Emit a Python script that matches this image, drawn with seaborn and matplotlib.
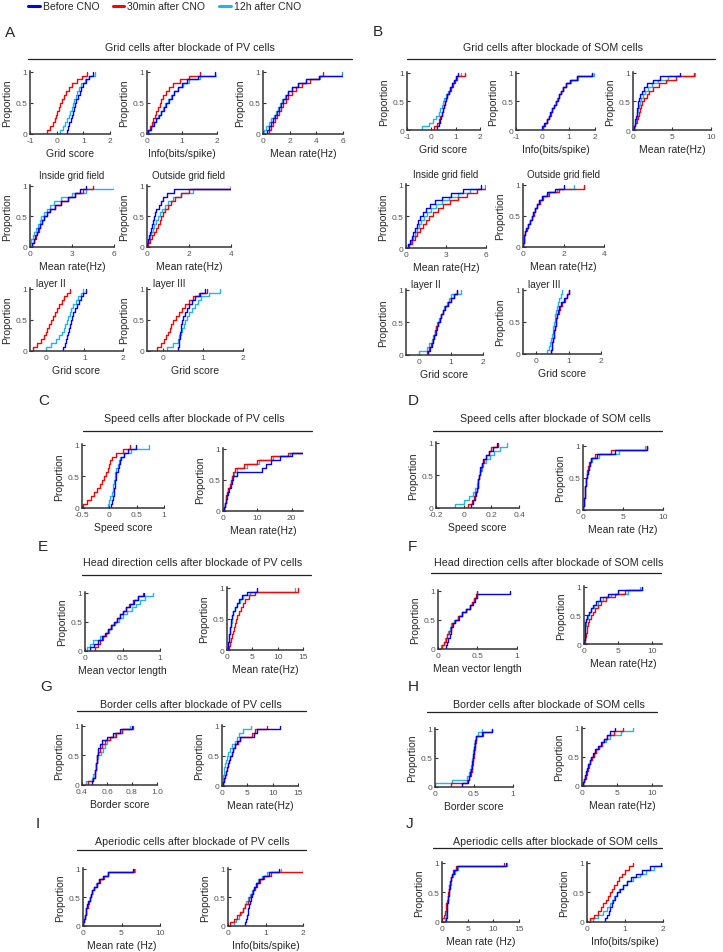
import matplotlib
matplotlib.use("Agg")
import matplotlib.pyplot as plt
import numpy as np
import pandas as pd
import seaborn as sns
from matplotlib.lines import Line2D

# ---- data: sample values (before, 30min, 12h) ----
labels = ["Before CNO", "30min after CNO", "12h after CNO"]
colors = ["#0000ff", "#ff0000", "#1fb5f0"]

# A: grid cells, PV blockade
a_grid_score = (
    [0.37, 0.42, 0.47, 0.52, 0.56, 0.6, 0.64, 0.69, 0.74, 0.8, 0.86, 0.93, 1.0, 1.1, 1.22, 1.36],
    [-0.35, -0.25, -0.15, -0.08, -0.02, 0.03, 0.08, 0.13, 0.19, 0.26, 0.35, 0.45, 0.58, 0.78, 0.95, 1.13],
    [0.12, 0.25, 0.33, 0.4, 0.46, 0.51, 0.56, 0.61, 0.66, 0.72, 0.78, 0.85, 0.93, 1.05, 1.2, 1.43],
)
a_info = (
    [0.03, 0.12, 0.2, 0.27, 0.34, 0.41, 0.48, 0.55, 0.62, 0.7, 0.78, 0.88, 1.0, 1.15, 1.45, 1.95],
    [0.02, 0.08, 0.13, 0.18, 0.22, 0.27, 0.31, 0.36, 0.41, 0.47, 0.54, 0.62, 0.75, 0.95, 1.2, 1.5],
    [0.02, 0.1, 0.18, 0.25, 0.32, 0.39, 0.45, 0.52, 0.6, 0.68, 0.77, 0.88, 1.02, 1.2, 1.5, 2.0],
)
a_rate = (
    [0.28, 0.45, 0.6, 0.75, 0.9, 1.05, 1.2, 1.35, 1.5, 1.7, 1.9, 2.2, 2.6, 3.2, 4.2, 6.0],
    [0.42, 0.6, 0.75, 0.9, 1.05, 1.2, 1.35, 1.5, 1.7, 1.9, 2.15, 2.45, 2.9, 3.5, 4.2, 4.5],
    [0.05, 0.25, 0.45, 0.62, 0.8, 0.95, 1.1, 1.3, 1.45, 1.65, 1.85, 2.15, 2.6, 3.2, 4.3, 5.9],
)
a_inside = (
    [0.12, 0.25, 0.38, 0.5, 0.6, 0.72, 0.85, 1.0, 1.2, 1.45, 1.8, 2.2, 2.7, 3.2, 3.6, 4.0],
    [0.12, 0.28, 0.4, 0.52, 0.62, 0.73, 0.86, 1.0, 1.2, 1.45, 1.8, 2.2, 2.7, 3.2, 3.8, 4.5],
    [0.0, 0.1, 0.2, 0.3, 0.42, 0.55, 0.68, 0.82, 1.0, 1.2, 1.45, 1.7, 2.2, 3.0, 4.0, 6.0],
)
a_outside = (
    [0.02, 0.06, 0.1, 0.14, 0.18, 0.22, 0.27, 0.32, 0.38, 0.45, 0.55, 0.65, 0.78, 0.95, 1.3, 4.0],
    [0.05, 0.15, 0.25, 0.35, 0.43, 0.52, 0.6, 0.68, 0.78, 0.88, 1.0, 1.15, 1.35, 1.6, 2.0, 4.0],
    [0.02, 0.08, 0.14, 0.2, 0.27, 0.34, 0.41, 0.5, 0.6, 0.72, 0.85, 1.0, 1.25, 1.6, 2.2, 4.0],
)
a_layer2 = (
    [0.45, 0.5, 0.53, 0.56, 0.58, 0.6, 0.62, 0.65, 0.68, 0.72, 0.76, 0.8, 0.86, 0.92, 0.98, 1.05],
    [-0.33, -0.22, -0.12, -0.05, 0.0, 0.05, 0.1, 0.15, 0.2, 0.25, 0.3, 0.36, 0.42, 0.48, 0.55, 0.62],
    [0.0, 0.15, 0.28, 0.36, 0.42, 0.47, 0.51, 0.55, 0.59, 0.63, 0.67, 0.72, 0.78, 0.85, 0.92, 0.98],
)
a_layer3 = (
    [0.38, 0.39, 0.4, 0.42, 0.43, 0.44, 0.45, 0.47, 0.5, 0.55, 0.6, 0.65, 0.72, 0.8, 0.92, 1.05],
    [-0.16, -0.05, 0.02, 0.08, 0.12, 0.17, 0.21, 0.26, 0.32, 0.4, 0.48, 0.56, 0.65, 0.75, 0.9, 1.1],
    [0.1, 0.25, 0.37, 0.4, 0.44, 0.48, 0.52, 0.56, 0.6, 0.66, 0.72, 0.8, 0.88, 0.95, 1.15, 1.43],
)

# B: grid cells, SOM blockade
b_grid_score = (
    [0.25, 0.3, 0.34, 0.38, 0.42, 0.46, 0.5, 0.55, 0.6, 0.66, 0.72, 0.78, 0.85, 0.92, 1.0, 1.1],
    [0.1, 0.25, 0.32, 0.37, 0.42, 0.46, 0.5, 0.55, 0.6, 0.66, 0.72, 0.8, 0.88, 0.96, 1.05, 1.4],
    [-0.4, -0.1, 0.05, 0.2, 0.3, 0.36, 0.42, 0.48, 0.54, 0.6, 0.68, 0.76, 0.84, 0.92, 1.0, 1.2],
)
b_info = (
    [0.0, 0.08, 0.16, 0.24, 0.31, 0.38, 0.45, 0.52, 0.58, 0.65, 0.72, 0.8, 0.9, 1.05, 1.3, 1.9],
    [0.02, 0.1, 0.18, 0.25, 0.32, 0.38, 0.45, 0.51, 0.58, 0.64, 0.72, 0.8, 0.9, 1.05, 1.3, 1.9],
    [0.01, 0.09, 0.17, 0.24, 0.31, 0.38, 0.44, 0.51, 0.57, 0.64, 0.71, 0.79, 0.9, 1.08, 1.35, 1.95],
)
b_rate = (
    [0.1, 0.2, 0.3, 0.38, 0.45, 0.52, 0.6, 0.7, 0.82, 0.95, 1.15, 1.4, 1.8, 2.5, 3.5, 6.0],
    [0.15, 0.3, 0.45, 0.6, 0.72, 0.85, 1.0, 1.2, 1.45, 1.75, 2.1, 2.6, 3.3, 4.2, 5.5, 7.8],
    [0.1, 0.25, 0.35, 0.45, 0.55, 0.65, 0.77, 0.9, 1.05, 1.25, 1.5, 1.9, 2.4, 3.2, 4.5, 8.0],
)
b_inside = (
    [0.15, 0.3, 0.42, 0.55, 0.68, 0.8, 0.92, 1.05, 1.25, 1.5, 1.8, 2.2, 2.7, 3.4, 4.3, 5.6],
    [0.2, 0.45, 0.65, 0.85, 1.05, 1.25, 1.5, 1.75, 2.05, 2.4, 2.8, 3.3, 3.9, 4.6, 5.3, 6.0],
    [0.15, 0.35, 0.5, 0.65, 0.8, 0.95, 1.15, 1.35, 1.6, 1.9, 2.25, 2.7, 3.2, 3.9, 4.8, 5.9],
)
b_outside = (
    [0.02, 0.03, 0.05, 0.08, 0.15, 0.25, 0.33, 0.42, 0.5, 0.58, 0.68, 0.8, 0.95, 1.2, 1.6, 2.0],
    [0.02, 0.03, 0.06, 0.1, 0.18, 0.27, 0.35, 0.44, 0.52, 0.6, 0.7, 0.82, 1.0, 1.3, 1.8, 3.0],
    [0.02, 0.03, 0.05, 0.08, 0.15, 0.25, 0.33, 0.42, 0.5, 0.58, 0.68, 0.8, 0.95, 1.25, 1.7, 2.5],
)
b_layer2 = (
    [0.3, 0.35, 0.4, 0.44, 0.48, 0.52, 0.56, 0.6, 0.65, 0.7, 0.76, 0.82, 0.9, 1.0, 1.1, 1.2],
    [0.25, 0.32, 0.38, 0.43, 0.47, 0.51, 0.55, 0.6, 0.65, 0.7, 0.76, 0.83, 0.9, 1.0, 1.1, 1.2],
    [0.0, 0.25, 0.33, 0.4, 0.45, 0.5, 0.54, 0.58, 0.63, 0.68, 0.74, 0.8, 0.88, 0.95, 1.0, 1.3],
)
b_layer3 = (
    [0.45, 0.48, 0.5, 0.52, 0.54, 0.56, 0.58, 0.6, 0.62, 0.65, 0.68, 0.72, 0.78, 0.85, 0.95, 1.0],
    [0.45, 0.48, 0.5, 0.52, 0.54, 0.56, 0.58, 0.6, 0.62, 0.65, 0.7, 0.75, 0.8, 0.9, 0.95, 1.02],
    [0.35, 0.4, 0.43, 0.46, 0.49, 0.51, 0.53, 0.55, 0.57, 0.59, 0.62, 0.65, 0.68, 0.72, 0.76, 0.8],
)

# C/D: speed cells
c_speed = (
    [0.03, 0.05, 0.06, 0.08, 0.09, 0.1, 0.11, 0.12, 0.13, 0.15, 0.17, 0.19, 0.22, 0.26, 0.35, 0.49],
    [-0.48, -0.4, -0.33, -0.28, -0.22, -0.17, -0.13, -0.09, -0.06, -0.03, -0.01, 0.01, 0.05, 0.12, 0.25, 0.37],
    [-0.03, 0.0, 0.02, 0.04, 0.06, 0.07, 0.08, 0.1, 0.11, 0.13, 0.15, 0.17, 0.2, 0.26, 0.4, 0.73],
)
c_rate = (
    [0.3, 0.6, 0.9, 1.2, 1.5, 1.8, 2.2, 2.6, 3.0, 4.0, 11.5, 12.5, 14.0, 16.5, 20.0, 30.0],
    [0.2, 0.5, 0.8, 1.0, 1.3, 1.6, 1.9, 2.2, 2.6, 3.0, 3.6, 6.0, 10.0, 14.0, 19.0, 30.0],
    [0.2, 0.5, 0.8, 1.0, 1.3, 1.6, 1.9, 2.3, 2.7, 3.2, 4.0, 7.0, 10.5, 14.5, 19.5, 30.0],
)
d_speed = (
    [0.055, 0.07, 0.08, 0.09, 0.095, 0.1, 0.105, 0.11, 0.115, 0.12, 0.13, 0.14, 0.16, 0.18, 0.21, 0.24],
    [0.03, 0.06, 0.075, 0.085, 0.095, 0.1, 0.105, 0.11, 0.115, 0.125, 0.135, 0.145, 0.16, 0.18, 0.2, 0.25],
    [-0.065, 0.0, 0.04, 0.07, 0.085, 0.095, 0.1, 0.11, 0.12, 0.13, 0.14, 0.16, 0.19, 0.22, 0.26, 0.31],
)
d_rate = (
    [0.05, 0.1, 0.15, 0.2, 0.25, 0.3, 0.35, 0.4, 0.5, 0.6, 0.7, 0.85, 1.0, 1.8, 4.0, 8.0],
    [0.05, 0.1, 0.15, 0.2, 0.25, 0.3, 0.35, 0.4, 0.45, 0.55, 0.65, 0.8, 0.95, 1.5, 3.5, 8.0],
    [0.05, 0.1, 0.15, 0.2, 0.25, 0.3, 0.35, 0.4, 0.5, 0.6, 0.75, 0.9, 1.1, 2.0, 4.5, 7.8],
)

# E/F: head direction cells
e_mvl = (
    [0.07, 0.12, 0.17, 0.22, 0.27, 0.31, 0.35, 0.39, 0.43, 0.47, 0.51, 0.55, 0.6, 0.65, 0.7, 0.78],
    [0.13, 0.17, 0.2, 0.24, 0.28, 0.31, 0.35, 0.39, 0.42, 0.46, 0.5, 0.54, 0.59, 0.64, 0.7, 0.77],
    [0.02, 0.06, 0.1, 0.2, 0.28, 0.32, 0.36, 0.4, 0.45, 0.5, 0.56, 0.62, 0.68, 0.73, 0.8, 0.9],
)
e_rate = (
    [0.1, 0.2, 0.3, 0.4, 0.5, 0.6, 0.7, 0.85, 1.0, 1.2, 1.5, 1.9, 2.4, 3.0, 4.0, 6.0],
    [0.3, 0.5, 0.7, 0.9, 1.1, 1.3, 1.5, 1.8, 2.0, 2.3, 2.7, 3.1, 3.6, 4.3, 5.5, 14.0],
    [0.1, 0.2, 0.3, 0.4, 0.5, 0.6, 0.75, 0.9, 1.05, 1.25, 1.5, 1.9, 2.5, 3.2, 4.5, 13.5],
)
f_mvl = (
    [0.1, 0.12, 0.13, 0.15, 0.16, 0.17, 0.19, 0.22, 0.26, 0.3, 0.35, 0.4, 0.44, 0.47, 0.5, 0.91],
    [0.05, 0.08, 0.1, 0.12, 0.14, 0.16, 0.18, 0.21, 0.25, 0.3, 0.35, 0.4, 0.43, 0.46, 0.48, 0.49],
    [0.04, 0.07, 0.09, 0.11, 0.13, 0.15, 0.17, 0.2, 0.25, 0.3, 0.35, 0.4, 0.43, 0.46, 0.49, 0.5],
)
f_rate = (
    [0.05, 0.08, 0.1, 0.13, 0.16, 0.2, 0.3, 0.5, 0.8, 1.1, 1.4, 1.8, 2.4, 3.5, 5.0, 8.5],
    [0.1, 0.2, 0.3, 0.4, 0.5, 0.6, 0.8, 1.0, 1.3, 1.6, 2.0, 2.5, 3.3, 4.5, 6.0, 8.5],
    [0.05, 0.08, 0.1, 0.14, 0.18, 0.25, 0.35, 0.55, 0.8, 1.1, 1.5, 2.0, 2.8, 4.0, 6.5, 8.3],
)

# G/H: border cells
g_border = (
    [0.48, 0.49, 0.5, 0.5, 0.51, 0.51, 0.52, 0.52, 0.53, 0.53, 0.54, 0.56, 0.6, 0.65, 0.7, 0.8],
    [0.45, 0.49, 0.5, 0.5, 0.51, 0.51, 0.52, 0.52, 0.53, 0.54, 0.56, 0.58, 0.62, 0.67, 0.72, 0.81],
    [0.43, 0.48, 0.49, 0.5, 0.51, 0.51, 0.52, 0.53, 0.55, 0.57, 0.58, 0.6, 0.62, 0.66, 0.72, 0.78],
)
g_rate = (
    [0.1, 0.3, 0.5, 0.7, 0.9, 1.1, 1.3, 1.6, 1.9, 2.2, 2.6, 3.0, 3.5, 6.3, 7.0, 11.4],
    [0.1, 0.3, 0.5, 0.7, 0.9, 1.1, 1.3, 1.6, 1.9, 2.2, 2.6, 3.1, 3.6, 6.0, 6.5, 8.8],
    [0.05, 0.1, 0.2, 0.3, 0.45, 0.6, 0.8, 0.9, 1.2, 1.6, 2.0, 2.6, 3.0, 3.4, 4.2, 5.7],
)
h_border = (
    [0.34, 0.42, 0.43, 0.45, 0.46, 0.47, 0.48, 0.49, 0.49, 0.5, 0.5, 0.51, 0.51, 0.52, 0.6, 0.73],
    [0.21, 0.41, 0.44, 0.46, 0.47, 0.48, 0.49, 0.49, 0.5, 0.5, 0.51, 0.51, 0.52, 0.53, 0.62, 0.73],
    [0.0, 0.22, 0.41, 0.43, 0.45, 0.46, 0.47, 0.48, 0.49, 0.49, 0.5, 0.5, 0.51, 0.52, 0.55, 0.6],
)
h_rate = (
    [0.1, 0.25, 0.4, 0.55, 0.7, 0.9, 1.1, 1.3, 1.6, 1.9, 2.3, 2.7, 3.1, 3.5, 4.0, 4.7],
    [0.15, 0.3, 0.5, 0.65, 0.8, 0.95, 1.1, 1.4, 1.7, 2.0, 2.4, 2.8, 3.2, 3.6, 4.5, 5.9],
    [0.1, 0.25, 0.4, 0.55, 0.7, 0.85, 1.1, 1.35, 1.7, 2.0, 2.4, 2.9, 3.4, 4.0, 5.5, 7.3],
)

# I/J: aperiodic cells
i_rate = (
    [0.05, 0.15, 0.25, 0.35, 0.45, 0.55, 0.7, 0.85, 1.0, 1.2, 1.4, 1.8, 2.1, 2.6, 3.2, 6.5],
    [0.05, 0.15, 0.25, 0.35, 0.45, 0.6, 0.72, 0.85, 1.0, 1.2, 1.45, 1.8, 2.2, 2.7, 3.3, 6.6],
    [0.05, 0.15, 0.25, 0.35, 0.45, 0.55, 0.7, 0.85, 1.0, 1.2, 1.4, 1.75, 2.1, 2.6, 3.3, 6.8],
)
i_info = (
    [0.45, 0.47, 0.5, 0.52, 0.54, 0.56, 0.58, 0.6, 0.63, 0.66, 0.7, 0.75, 0.82, 0.92, 1.1, 1.35],
    [0.05, 0.15, 0.25, 0.32, 0.4, 0.46, 0.52, 0.57, 0.62, 0.67, 0.72, 0.78, 0.85, 0.95, 1.15, 2.0],
    [0.15, 0.22, 0.28, 0.34, 0.4, 0.45, 0.49, 0.53, 0.58, 0.63, 0.68, 0.74, 0.8, 0.9, 1.05, 1.4],
)
j_rate = (
    [0.8, 0.9, 0.95, 1.0, 1.05, 1.1, 1.2, 1.3, 1.4, 1.5, 1.6, 1.8, 2.0, 2.3, 3.0, 12.5],
    [0.05, 0.3, 0.5, 0.7, 0.85, 1.0, 1.1, 1.2, 1.3, 1.45, 1.6, 1.75, 1.9, 2.1, 2.8, 12.0],
    [0.5, 0.7, 0.85, 0.95, 1.05, 1.15, 1.25, 1.35, 1.45, 1.55, 1.7, 1.85, 2.1, 2.5, 3.2, 12.6],
)
j_info = (
    [0.47, 0.52, 0.57, 0.61, 0.65, 0.69, 0.74, 0.8, 0.87, 0.95, 1.05, 1.15, 1.3, 1.45, 1.65, 1.96],
    [0.08, 0.18, 0.28, 0.36, 0.43, 0.5, 0.55, 0.6, 0.66, 0.72, 0.78, 0.85, 0.92, 1.0, 1.1, 1.21],
    [0.16, 0.3, 0.42, 0.52, 0.6, 0.66, 0.72, 0.78, 0.85, 0.95, 1.05, 1.2, 1.4, 1.55, 1.75, 2.0],
)

# ---- layout (pixel boxes: left, top, right, bottom) ----
W, H = 723, 953

sns.set_style("ticks")
plt.rcParams["font.family"] = ["Liberation Sans", "DejaVu Sans"]

fig = plt.figure(figsize=(W / 100, H / 100), dpi=100)


def to_long(groups):
    rows = []
    for lab, vals in zip(labels, groups):
        rows += [(lab, v) for v in vals]
    return pd.DataFrame(rows, columns=["cond", "value"])


def cdf_panel(box, groups, xlim, xticks, xticklabels, xlabel, title=None, corner=None):
    l, t, r, b = box
    ax = fig.add_axes([l / W, 1 - b / H, (r - l) / W, (b - t) / H])
    df = to_long(groups)
    sns.ecdfplot(data=df, x="value", hue="cond", hue_order=labels,
                 palette=colors, linewidth=1.0, legend=False, ax=ax)
    ax.set_xlim(*xlim)
    ax.set_ylim(0, 1.01)
    ax.set_xticks(xticks)
    ax.set_xticklabels(xticklabels)
    ax.set_yticks([0, 0.5, 1])
    ax.set_yticklabels(["0", "0.5", "1"])
    ax.tick_params(direction="in", length=2.5, width=0.8, labelsize=6,
                   labelcolor="#555555", colors="#333333", pad=2)
    for s in ["top", "right"]:
        ax.spines[s].set_visible(False)
    for s in ["left", "bottom"]:
        ax.spines[s].set_linewidth(1.1)
        ax.spines[s].set_color("#333333")
    ax.set_xlabel(xlabel, fontsize=7.5, labelpad=3)
    ax.set_ylabel("Proportion", fontsize=7.5, labelpad=2)
    if title:
        ax.set_title(title, fontsize=7, pad=5)
    if corner:
        ax.text(0.06, 1.0, corner, transform=ax.transAxes, fontsize=7.2,
                ha="left", va="bottom")
    return ax


def section(letter, lx, ly, title, tcx, ty, x0, x1, yl):
    fig.text(lx / W, 1 - ly / H, letter, fontsize=11, ha="left", va="center")
    fig.text(tcx / W, 1 - ty / H, title, fontsize=7.7, ha="center", va="center")
    fig.add_artist(Line2D([x0 / W, x1 / W], [1 - yl / H, 1 - yl / H],
                          transform=fig.transFigure, color="#222222", lw=0.9))


ticks_m1_2 = ([-1, 0, 1, 2], ["-1", "0", "1", "2"])
ticks_0_2 = ([0, 1, 2], ["0", "1", "2"])

# A
section("A", 5, 33, "Grid cells after blockade of PV cells", 190, 48, 28, 352, 60)
cdf_panel((30, 72, 110, 135), a_grid_score, (-1, 2), *ticks_m1_2, "Grid score")
cdf_panel((147, 72, 217, 135), a_info, (0, 2), *ticks_0_2, "Info(bits/spike)")
cdf_panel((263, 72, 343, 135), a_rate, (0, 6), [0, 2, 4, 6], ["0", "2", "4", "6"], "Mean rate(Hz)")
cdf_panel((30, 186, 114, 248), a_inside, (0, 6), [0, 3, 6], ["0", "3", "6"], "Mean rate(Hz)",
          title="Inside grid field")
cdf_panel((147, 186, 231, 248), a_outside, (0, 4), [0, 2, 4], ["0", "2", "4"], "Mean rate(Hz)",
          title="Outside grid field")
cdf_panel((30, 289, 123, 352), a_layer2, (-0.4, 2), *ticks_0_2, "Grid score", corner="layer II")
cdf_panel((147, 289, 243, 352), a_layer3, (-0.4, 2), *ticks_0_2, "Grid score", corner="layer III")

# B
section("B", 373, 32, "Grid cells after blockade of SOM cells", 553, 48, 407, 715, 60)
cdf_panel((407, 73, 480, 131), b_grid_score, (-1, 2), *ticks_m1_2, "Grid score")
cdf_panel((516, 73, 595, 131), b_info, (-1, 2), *ticks_m1_2, "Info(bits/spike)")
cdf_panel((633, 73, 711, 131), b_rate, (0, 10), [0, 5, 10], ["0", "5", "10"], "Mean rate(Hz)")
cdf_panel((406, 185, 486, 249), b_inside, (0, 6), [0, 3, 6], ["0", "3", "6"], "Mean rate(Hz)",
          title="Inside grid field")
cdf_panel((523, 185, 604, 248), b_outside, (0, 4), [0, 2, 4], ["0", "2", "4"], "Mean rate(Hz)",
          title="Outside grid field")
cdf_panel((406, 290, 483, 356), b_layer2, (-0.4, 2), *ticks_0_2, "Grid score", corner="layer II")
cdf_panel((523, 290, 601, 355), b_layer3, (-0.4, 2), *ticks_0_2, "Grid score", corner="layer III")

# C / D
section("C", 38, 401, "Speed cells after blockade of PV cells", 194, 419, 83, 312, 432)
cdf_panel((82, 445, 164, 509), c_speed, (-0.5, 1), [-0.5, 0, 0.5, 1], ["-0.5", "0", "0.5", "1"],
          "Speed score")
cdf_panel((223, 449, 303, 512), c_rate, (0, 23.3), [0, 10, 20], ["0", "10", "20"], "Mean rate(Hz)")
section("D", 408, 401, "Speed cells after blockade of SOM cells", 555, 419, 433, 662, 432)
cdf_panel((436, 443, 519, 509), d_speed, (-0.2, 0.4), [-0.2, 0, 0.2, 0.4], ["-0.2", "0", "0.2", "0.4"],
          "Speed score")
cdf_panel((583, 446, 663, 511), d_rate, (0, 10), [0, 5, 10], ["0", "5", "10"], "Mean rate (Hz)")

# E / F
section("E", 38, 547, "Head direction cells after blockade of PV cells", 193, 563, 82, 311, 576)
cdf_panel((85, 593, 160, 652), e_mvl, (0, 1), [0, 0.5, 1], ["0", "0.5", "1"], "Mean vector length")
cdf_panel((227, 588, 303, 651), e_rate, (0, 15), [0, 5, 10, 15], ["0", "5", "10", "15"], "Mean rate(Hz)")
section("F", 408, 547, "Head direction cells after blockade of SOM cells", 549, 563, 431, 661, 574)
cdf_panel((438, 591, 517, 650), f_mvl, (0, 1), [0, 0.5, 1], ["0", "0.5", "1"], "Mean vector length")
cdf_panel((584, 587, 662, 645), f_rate, (0, 11.5), [0, 5, 10], ["0", "5", "10"], "Mean rate(Hz)")

# G / H
section("G", 40, 687, "Border cells after blockade of PV cells", 191, 705, 77, 306, 712)
cdf_panel((82, 726, 157, 786), g_border, (0.4, 1.0), [0.4, 0.6, 0.8, 1.0], ["0.4", "0.6", "0.8", "1.0"],
          "Border score")
cdf_panel((222, 726, 298, 787), g_rate, (0, 15), [0, 5, 10, 15], ["0", "5", "10", "15"], "Mean rate(Hz)")
section("H", 408, 687, "Border cells after blockade of SOM cells", 549, 705, 427, 657, 713)
cdf_panel((435, 729, 513, 788), h_border, (0, 1), [0, 0.5, 1], ["0", "0.5", "1"], "Border score")
cdf_panel((582, 728, 662, 787), h_rate, (0, 11.4), [0, 5, 10], ["0", "5", "10"], "Mean rate(Hz)")

# I / J
section("I", 36, 824, "Aperiodic cells after blockade of PV cells", 192, 842, 77, 306, 851)
cdf_panel((83, 869, 160, 927), i_rate, (0, 10), [0, 5, 10], ["0", "5", "10"], "Mean rate (Hz)")
cdf_panel((228, 869, 303, 927), i_info, (0, 2), *ticks_0_2, "Info(bits/spike)")
section("J", 406, 824, "Aperiodic cells after blockade of SOM cells", 555, 842, 433, 662, 849)
cdf_panel((442, 863, 519, 923), j_rate, (0, 15), [0, 5, 10, 15], ["0", "5", "10", "15"], "Mean rate (Hz)")
cdf_panel((587, 863, 663, 923), j_info, (0, 2), *ticks_0_2, "Info(bits/spike)")

# legend at the top
handles = [Line2D([], [], color=c, lw=2.2) for c in colors]
fig.legend(handles, labels, loc="upper left", bbox_to_anchor=(24 / W, 1 + 2 / H), ncol=3,
           frameon=False, fontsize=7.5, handlelength=1.1, handletextpad=0.3,
           columnspacing=1.3, borderaxespad=0)

fig.savefig("out.png", dpi=100)
